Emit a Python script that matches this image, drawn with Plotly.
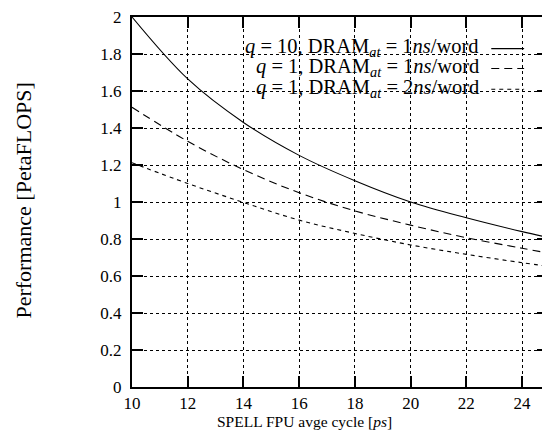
import plotly.graph_objects as go

# Data
cycle_ps = [10, 12, 14, 16, 18, 20, 22, 24, 25]
perf_q10_1ns = [2.0, 1.665, 1.43, 1.252, 1.115, 1.0, 0.915, 0.84, 0.806]
perf_q1_1ns = [1.512, 1.328, 1.175, 1.05, 0.952, 0.875, 0.807, 0.75, 0.722]
perf_q1_2ns = [1.212, 1.1, 0.998, 0.902, 0.83, 0.768, 0.717, 0.672, 0.651]
series_labels = [
    "<i>q</i> = 10, DRAM<sub><i>at</i></sub> = 1<i>ns</i>/word",
    "<i>q</i> = 1, DRAM<sub><i>at</i></sub> = 1<i>ns</i>/word",
    "<i>q</i> = 1, DRAM<sub><i>at</i></sub> = 2<i>ns</i>/word",
]
x_ticks = [10, 12, 14, 16, 18, 20, 22, 24]
y_ticks = [0, 0.2, 0.4, 0.6, 0.8, 1, 1.2, 1.4, 1.6, 1.8, 2]
y_tick_text = ["0", "0.2", "0.4", "0.6", "0.8", "1", "1.2", "1.4", "1.6", "1.8", "2"]

FONT = "Liberation Serif"
OFF = 8  # page body margin
W, H = 542, 430
L, R, T, B = 124, 0, 5, 51
pw, ph = W - L - R, H - T - B

def px(x):
    return (x - OFF - L) / pw

def py(y):
    return (H - B - (y - OFF)) / ph

dashes = ["solid", "8px,5px", "4px,4px"]
series = [perf_q10_1ns, perf_q1_1ns, perf_q1_2ns]

fig = go.Figure()
for vals, d in zip(series, dashes):
    fig.add_trace(go.Scatter(x=cycle_ps, y=vals, mode="lines",
                             line=dict(color="black", width=1.1, dash=d, shape="spline"),
                             showlegend=False, hoverinfo="skip"))

# Manual legend (text right, sample on right side)
rows_y = [44, 64, 85]
for lab, d, ry in zip(series_labels, dashes, rows_y):
    fig.add_annotation(xref="paper", yref="paper", x=px(483), y=py(ry),
                       text=lab, showarrow=False, xanchor="right", yanchor="middle",
                       font=dict(family=FONT, size=20.5, color="black"))
    fig.add_shape(type="line", xref="paper", yref="paper",
                  x0=px(493), x1=px(526), y0=py(ry + 1), y1=py(ry + 1),
                  line=dict(color="black", width=1.1, dash=d))

# Axis titles
fig.add_annotation(xref="paper", yref="paper", x=px(305), y=py(422),
                   text="SPELL FPU avge cycle [<i>ps</i>]", showarrow=False,
                   xanchor="center", yanchor="middle",
                   font=dict(family=FONT, size=15.5, color="black"))
fig.add_annotation(xref="paper", yref="paper", x=px(22), y=py(199),
                   text="Performance [PetaFLOPS]", showarrow=False, textangle=-90,
                   xanchor="center", yanchor="middle",
                   font=dict(family=FONT, size=22, color="black"))

fig.update_xaxes(range=[10, 24.93], tickvals=x_ticks, ticktext=[str(t) for t in x_ticks],
                 showgrid=True, gridcolor="black", griddash="dot", gridwidth=1,
                 showline=True, linecolor="black", linewidth=2, mirror="ticks",
                 ticks="inside", ticklen=11, tickwidth=2, tickcolor="black",
                 zeroline=False, ticklabelstandoff=0, ticklabeloverflow="allow",
                 tickfont=dict(family=FONT, size=17, color="black"))
fig.update_yaxes(range=[0, 2], tickvals=y_ticks, ticktext=y_tick_text,
                 showgrid=True, gridcolor="black", griddash="dot", gridwidth=1,
                 showline=True, linecolor="black", linewidth=2, mirror="ticks",
                 ticks="inside", ticklen=11, tickwidth=2, tickcolor="black",
                 zeroline=False, ticklabelstandoff=5, ticklabeloverflow="allow",
                 tickfont=dict(family=FONT, size=17, color="black"))

fig.update_layout(width=W, height=H, margin=dict(l=L, r=R, t=T, b=B, pad=0),
                  plot_bgcolor="white", paper_bgcolor="white",
                  font=dict(family=FONT, size=17, color="black"))

fig.write_html("out.html")
